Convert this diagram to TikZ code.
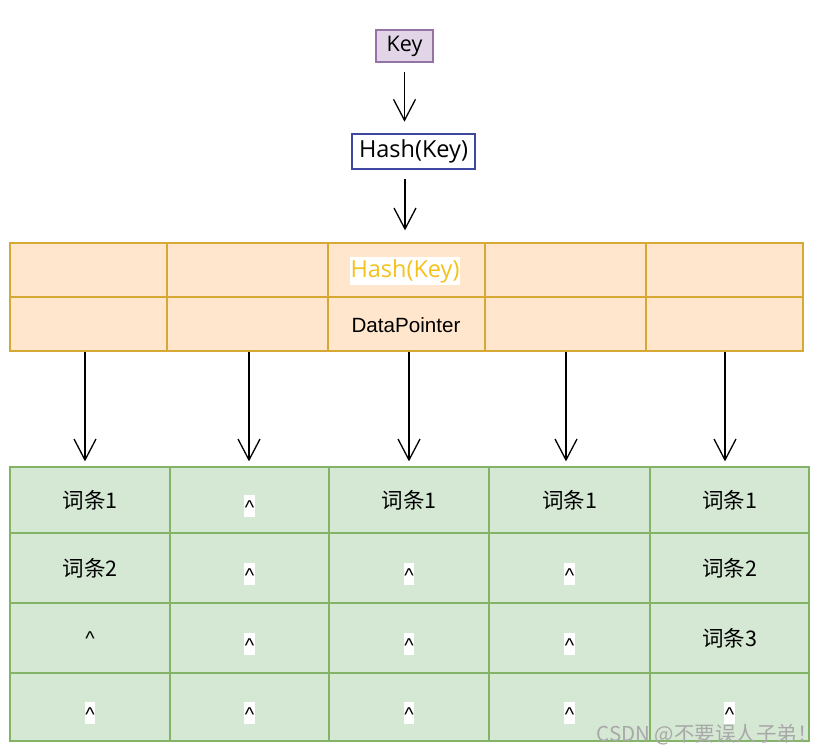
\documentclass[tikz,border=0pt]{standalone}
\usepackage{fontspec}
\setmainfont{Liberation Sans}
\newfontfamily\cjk{Noto Sans CJK SC}
\newfontfamily\osans{Open Sans}
\usetikzlibrary{arrows.meta}
\definecolor{keyfill}{HTML}{E1D5E7}
\definecolor{keydraw}{HTML}{9673A6}
\definecolor{hashdraw}{HTML}{3F48A0}
\definecolor{ofill}{HTML}{FFE6CC}
\definecolor{odraw}{HTML}{D6A935}
\definecolor{gfill}{HTML}{D5E8D4}
\definecolor{gdraw}{HTML}{82B366}
\definecolor{goldtxt}{HTML}{F5C21B}
\definecolor{wm}{HTML}{A8A8A8}
\tikzset{
  arr/.style={-{Straight Barb[length=21pt,width=22pt]}, line width=1.3pt, black},
  ocell/.style={draw=odraw, fill=ofill, line width=1.2pt, inner sep=0pt},
  gcell/.style={draw=gdraw, fill=gfill, line width=1.2pt, inner sep=0pt},
  celltxt/.style={font=\fontsize{20.6}{24}\selectfont, inner sep=0pt},
  cjktxt/.style={font=\cjk\fontsize{21.5}{25}\selectfont, inner sep=0pt},
  caretw/.style={font=\fontsize{20}{24}\selectfont, fill=white, inner xsep=0.6pt, inner ysep=0pt, text height=19pt, text depth=3pt, anchor=base},
  caretp/.style={font=\fontsize{20}{24}\selectfont, inner sep=0pt, anchor=base},
}
\begin{document}
\begin{tikzpicture}[x=1pt,y=-1pt]
\useasboundingbox[fill=white] (0,0) rectangle (818,754);

% top boxes
\node[draw=keydraw, fill=keyfill, line width=1.2pt, minimum width=57pt, minimum height=32pt, inner sep=0pt,
      font=\osans\fontsize{21.5}{25}\selectfont] (key) at (404.5,46) {Key};
\node[draw=hashdraw, line width=2.6pt, minimum width=123pt, minimum height=35pt, inner sep=0pt,
      font=\osans\fontsize{23.5}{27}\selectfont] (hash) at (413.5,151.5) {Hash(Key)};

% orange table
\foreach \i/\a/\b in {1/10/167,2/167/328,3/328/485,4/485/646,5/646/803}{
  \node[ocell, minimum width={\b-\a}, minimum height=54pt] (o1-\i) at ({(\a+\b)/2},270) {};
  \node[ocell, minimum width={\b-\a}, minimum height=54pt] (o2-\i) at ({(\a+\b)/2},324) {};
}
\node[fill=white, inner xsep=0.5pt, inner ysep=2pt, text=goldtxt, font=\osans\fontsize{23.5}{27}\selectfont] (hk) at (405,271) {Hash(Key)};
\node[celltxt] (dp) at (406,325) {DataPointer};

% green table
\foreach \i/\a/\b in {1/10/170,2/170/329,3/329/489,4/489/650,5/650/809}{
  \node[gcell, minimum width={\b-\a}, minimum height=66pt] (g1-\i) at ({(\a+\b)/2},500) {};
  \node[gcell, minimum width={\b-\a}, minimum height=70pt] (g2-\i) at ({(\a+\b)/2},568) {};
  \node[gcell, minimum width={\b-\a}, minimum height=70pt] (g3-\i) at ({(\a+\b)/2},638) {};
  \node[gcell, minimum width={\b-\a}, minimum height=68pt] (g4-\i) at ({(\a+\b)/2},707) {};
}

% green table contents
\node[cjktxt] (t11) at (g1-1) {词条1};
\node[caretw] (t12) at ([yshift=-14pt]g1-2.center) {\textasciicircum};
\node[cjktxt] (t13) at (g1-3) {词条1};
\node[cjktxt] (t14) at (g1-4) {词条1};
\node[cjktxt] (t15) at (g1-5) {词条1};

\node[cjktxt] (t21) at (g2-1) {词条2};
\node[caretw] (t22) at ([yshift=-14pt]g2-2.center) {\textasciicircum};
\node[caretw] (t23) at ([yshift=-14pt]g2-3.center) {\textasciicircum};
\node[caretw] (t24) at ([yshift=-14pt]g2-4.center) {\textasciicircum};
\node[cjktxt] (t25) at (g2-5) {词条2};

\node[caretp] (t31) at ([yshift=-7pt]g3-1.center) {\textasciicircum};
\node[caretw] (t32) at ([yshift=-14pt]g3-2.center) {\textasciicircum};
\node[caretw] (t33) at ([yshift=-14pt]g3-3.center) {\textasciicircum};
\node[caretw] (t34) at ([yshift=-14pt]g3-4.center) {\textasciicircum};
\node[cjktxt] (t35) at (g3-5) {词条3};

\node[caretw] (t41) at ([yshift=-14pt]g4-1.center) {\textasciicircum};
\node[caretw] (t42) at ([yshift=-14pt]g4-2.center) {\textasciicircum};
\node[caretw] (t43) at ([yshift=-14pt]g4-3.center) {\textasciicircum};
\node[caretw] (t44) at ([yshift=-14pt]g4-4.center) {\textasciicircum};
\node[caretw] (t45) at ([yshift=-14pt]g4-5.center) {\textasciicircum};

% arrows
\draw[arr, shorten <=9pt, shorten >=11pt] (key.south) -- (key.south |- hash.north);
\draw[arr, shorten <=9pt, shorten >=12pt] ([xshift=-8.5pt]hash.south) -- ([xshift=-8.5pt]hash.south |- o1-3.north);
\foreach \i/\dx in {1/-3.5,2/1.5,3/2.5,4/0.5,5/0.5}{
  \draw[arr, shorten >=5pt] ([xshift=\dx pt]o2-\i.south) -- ([xshift=\dx pt]o2-\i.south |- g1-\i.north);
}

% watermark
\node[anchor=east, inner sep=0pt, text=wm, font=\cjk\fontsize{20.5}{24}\selectfont] (wmk) at (818,735) {CSDN @不要误人子弟！};
\end{tikzpicture}
\end{document}
